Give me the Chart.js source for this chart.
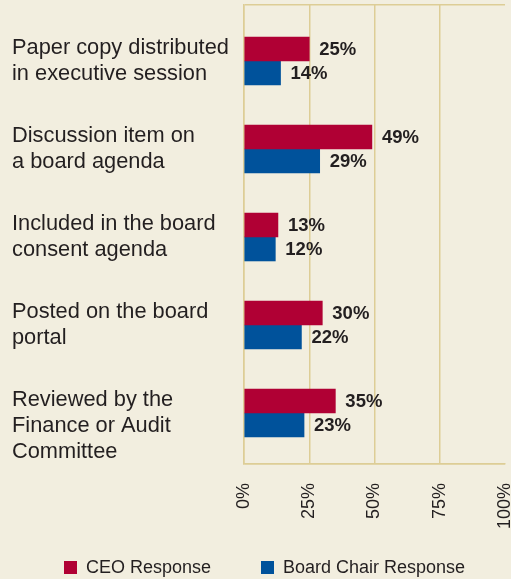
<!DOCTYPE html>
<html>
<head>
<meta charset="utf-8">
<script src="https://cdn.jsdelivr.net/npm/chart.js@4.4.1/dist/chart.umd.min.js"></script>
<style>
  body { margin: 0; background: #f2eedf; }
  #wrap { position: relative; width: 511px; height: 579px; overflow: hidden; }
  canvas { display: block; }
  .legend-item { position: absolute; top: 557px; display: flex; align-items: center;
    font: 18px "Liberation Sans", Arial, sans-serif; color: #231f20; white-space: nowrap; }
  .legend-item span.box { width: 13px; height: 13px; margin-right: 9px; }
</style>
</head>
<body>
<div id="wrap">
  <canvas id="chart" width="511" height="579"></canvas>
  <div class="legend-item" style="left:64px"><span class="box" style="background:#b00034"></span>CEO Response</div>
  <div class="legend-item" style="left:261px"><span class="box" style="background:#00529b"></span>Board Chair Response</div>
</div>
<script>
const categories = [
  ['Paper copy distributed', 'in executive session'],
  ['Discussion item on', 'a board agenda'],
  ['Included in the board', 'consent agenda'],
  ['Posted on the board', 'portal'],
  ['Reviewed by the', 'Finance or Audit', 'Committee']
];
const ceoValues = [25, 49, 13, 30, 35];
const chairValues = [14, 29, 12, 22, 23];
const xTickValues = [0, 25, 50, 75, 100];

const gridColor = '#ddcd96';
const textColor = '#231f20';
const fontFamily = '"Liberation Sans", Arial, sans-serif';
const yMin = -0.636;
const yMax = 4.58;

// value labels at the end of each bar
const valueLabels = {
  id: 'valueLabels',
  afterDatasetsDraw(chart) {
    const ctx = chart.ctx;
    ctx.save();
    ctx.font = 'bold 18.5px ' + fontFamily;
    ctx.fillStyle = textColor;
    ctx.textBaseline = 'middle';
    chart.data.datasets.forEach((ds, i) => {
      chart.getDatasetMeta(i).data.forEach((bar, j) => {
        ctx.fillText(ds.data[j].x + '%', bar.x + 10, bar.y + 1);
      });
    });
    ctx.restore();
  }
};

new Chart(document.getElementById('chart'), {
  type: 'bar',
  data: {
    datasets: [
      {
        label: 'CEO Response',
        data: ceoValues.map((v, i) => ({ x: v, y: i })),
        backgroundColor: '#b00034'
      },
      {
        label: 'Board Chair Response',
        data: chairValues.map((v, i) => ({ x: v, y: i })),
        backgroundColor: '#00529b'
      }
    ]
  },
  options: {
    indexAxis: 'y',
    responsive: false,
    animation: false,
    barThickness: 24,
    layout: { padding: { left: 12, right: 6, top: 5, bottom: 50 } },
    plugins: { legend: { display: false }, tooltip: { enabled: false } },
    scales: {
      x: {
        min: 0,
        max: 100,
        afterBuildTicks: (scale) => { scale.ticks = xTickValues.map(v => ({ value: v })); },
        afterFit: (scale) => { scale.height = 65; scale.paddingLeft = 0; scale.paddingRight = 0; },
        grid: {
          lineWidth: 1.5,
          drawTicks: false,
          color: (ctx) => (ctx.tick && ctx.tick.value === 100) ? 'rgba(0,0,0,0)' : gridColor
        },
        border: { color: gridColor, width: 1.5 },
        ticks: {
          minRotation: 90,
          maxRotation: 90,
          autoSkip: false,
          padding: 19,
          color: textColor,
          font: { family: fontFamily, size: 18 },
          callback: (v) => v + '%'
        }
      },
      y: {
        type: 'linear',
        reverse: true,
        offset: false,
        min: yMin,
        max: yMax,
        afterFit: (scale) => { scale.width = 232; scale.paddingTop = 0; scale.paddingBottom = 0; },
        grid: {
          offset: false,
          drawTicks: false,
          lineWidth: 1.5,
          color: (ctx) => (ctx.index === 0 || ctx.index === ctx.scale.ticks.length - 1) ? gridColor : 'rgba(0,0,0,0)'
        },
        border: { color: gridColor, width: 1.5 },
        ticks: {
          stepSize: 1,
          autoSkip: false,
          crossAlign: 'far',
          color: textColor,
          font: { family: fontFamily, size: 21.8, lineHeight: '26px' },
          callback: (v) => {
            if (!Number.isInteger(v) || !categories[v]) return '';
            const lines = categories[v];
            // three-line label sits top-aligned like the two-line ones
            return lines.length > 2 ? [''].concat(lines) : lines;
          }
        }
      }
    }
  },
  plugins: [valueLabels]
});
</script>
</body>
</html>
